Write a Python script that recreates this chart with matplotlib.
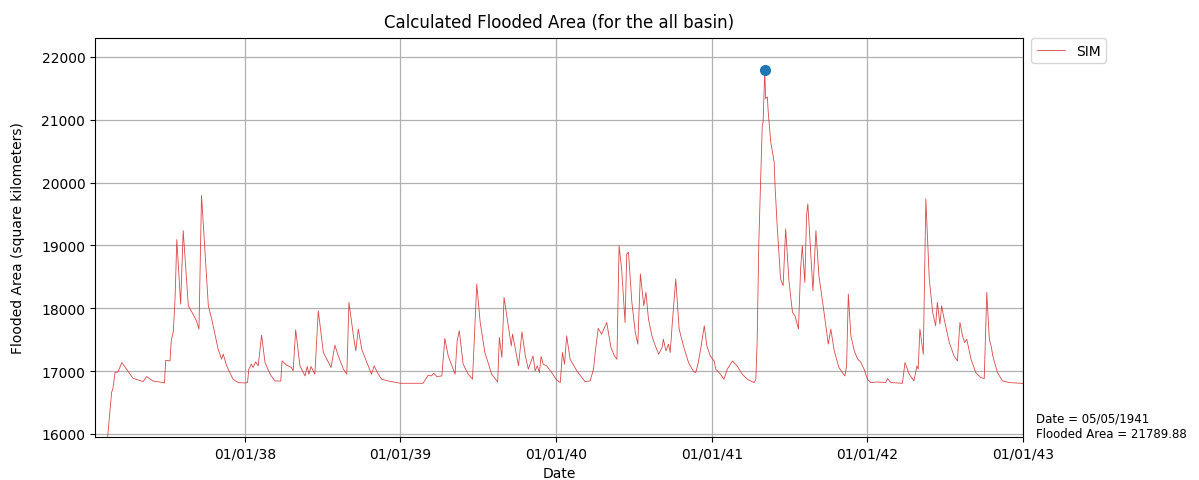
import matplotlib
matplotlib.use("Agg")
import matplotlib.pyplot as plt
import matplotlib.dates as mdates
import pandas as pd

# ---- data ----
dates = [
    "1937-02-12", "1937-02-22", "1937-02-25", "1937-03-02", "1937-03-09", "1937-03-18",
    "1937-04-13", "1937-05-07", "1937-05-15", "1937-05-30", "1937-06-26", "1937-06-29",
    "1937-07-09", "1937-07-12", "1937-07-17", "1937-07-21", "1937-07-25", "1937-08-03",
    "1937-08-09", "1937-08-21", "1937-09-01", "1937-09-09", "1937-09-15", "1937-09-21",
    "1937-10-07", "1937-10-15", "1937-10-30", "1937-11-07", "1937-11-11", "1937-11-19",
    "1937-12-04", "1937-12-16", "1938-01-01",
    "1938-01-07", "1938-01-10", "1938-01-16", "1938-01-20", "1938-01-26", "1938-02-01",
    "1938-02-09", "1938-02-17", "1938-03-01", "1938-03-12", "1938-03-26", "1938-03-29",
    "1938-04-09", "1938-04-20", "1938-04-24", "1938-04-30", "1938-05-10", "1938-05-22",
    "1938-05-27", "1938-05-31", "1938-06-05", "1938-06-14", "1938-06-22", "1938-07-04",
    "1938-07-14", "1938-07-22", "1938-07-31", "1938-08-08", "1938-08-20", "1938-08-28",
    "1938-09-02", "1938-09-12", "1938-09-18", "1938-09-24", "1938-10-02", "1938-10-14",
    "1938-10-25", "1938-10-31", "1938-11-10", "1938-11-18", "1938-12-03", "1938-12-23",
    "1939-01-01", "1939-02-23", "1939-03-07", "1939-03-15", "1939-03-20", "1939-03-27",
    "1939-04-08", "1939-04-15", "1939-04-23", "1939-05-09", "1939-05-14", "1939-05-19",
    "1939-05-28", "1939-06-09", "1939-06-19", "1939-06-29", "1939-07-07", "1939-07-18",
    "1939-08-03", "1939-08-17", "1939-08-21", "1939-08-27", "1939-09-01", "1939-09-11",
    "1939-09-18", "1939-09-21", "1939-09-27", "1939-10-05", "1939-10-13", "1939-10-21",
    "1939-10-28", "1939-11-08", "1939-11-13", "1939-11-18", "1939-11-23", "1939-11-27",
    "1939-12-02", "1939-12-10", "1939-12-22",
    "1940-01-01", "1940-01-11", "1940-01-16", "1940-01-21", "1940-01-26", "1940-02-03",
    "1940-02-19", "1940-03-09", "1940-03-21", "1940-03-29", "1940-04-02", "1940-04-09",
    "1940-04-17", "1940-04-23", "1940-04-29", "1940-05-03", "1940-05-09", "1940-05-17",
    "1940-05-23", "1940-05-28", "1940-06-03", "1940-06-11", "1940-06-15", "1940-06-19",
    "1940-06-27", "1940-07-05", "1940-07-11", "1940-07-17", "1940-07-25", "1940-07-30",
    "1940-08-05", "1940-08-13", "1940-08-21", "1940-08-29", "1940-09-06", "1940-09-09",
    "1940-09-15", "1940-09-21", "1940-09-25", "1940-09-30", "1940-10-08", "1940-10-16",
    "1940-10-26", "1940-11-07", "1940-11-18", "1940-11-24", "1940-11-30", "1940-12-06",
    "1940-12-14", "1940-12-20", "1940-12-28",
    "1941-01-06", "1941-01-10", "1941-01-21", "1941-01-29", "1941-02-06", "1941-02-18",
    "1941-03-01", "1941-03-13", "1941-03-25", "1941-04-10", "1941-04-14", "1941-04-17",
    "1941-04-21", "1941-04-25", "1941-04-29", "1941-05-01", "1941-05-05", "1941-05-07",
    "1941-05-11", "1941-05-13", "1941-05-19", "1941-05-27", "1941-05-29", "1941-06-03",
    "1941-06-11", "1941-06-17", "1941-06-23", "1941-07-01", "1941-07-09", "1941-07-15",
    "1941-07-23", "1941-07-28", "1941-08-01", "1941-08-07", "1941-08-11", "1941-08-14",
    "1941-08-21", "1941-08-26", "1941-09-02", "1941-09-09", "1941-09-21", "1941-10-01",
    "1941-10-07", "1941-10-15", "1941-10-26", "1941-11-09", "1941-11-13", "1941-11-17",
    "1941-11-23", "1941-12-01", "1941-12-09", "1941-12-16", "1941-12-24",
    "1942-01-01", "1942-01-09", "1942-01-24", "1942-02-13", "1942-02-17", "1942-02-25",
    "1942-03-24", "1942-03-30", "1942-04-09", "1942-04-20", "1942-04-27", "1942-04-30",
    "1942-05-04", "1942-05-12", "1942-05-18", "1942-05-26", "1942-06-03", "1942-06-10",
    "1942-06-14", "1942-06-20", "1942-06-24", "1942-06-30", "1942-07-12", "1942-07-23",
    "1942-07-31", "1942-08-06", "1942-08-12", "1942-08-17", "1942-08-22", "1942-09-01",
    "1942-09-12", "1942-09-24", "1942-10-02", "1942-10-08", "1942-10-14", "1942-10-19",
    "1942-10-22", "1942-11-02", "1942-11-14", "1942-11-30", "1942-12-27", "1942-12-31",
]
flooded_area = [
    15900, 16660, 16720, 16976, 16986, 17135,
    16885, 16832, 16912, 16842, 16812, 17170,
    17161, 17480, 17640, 18172, 19092, 18065,
    19235, 18038, 17906, 17800, 17667, 19793,
    18038, 17826, 17348, 17188, 17268, 17081,
    16869, 16816, 16810,
    16816, 17029, 17109, 17056, 17145, 17082,
    17571, 17135, 16949, 16842, 16842, 17161,
    17092, 17056, 17002, 17656, 17082, 16922,
    17072, 16949, 17072, 16949, 17959, 17295,
    17161, 17056, 17412, 17241, 17029, 16949,
    18093, 17587, 17321, 17667, 17348, 17135,
    16949, 17082, 16949, 16869, 16842, 16816,
    16805, 16805, 16933, 16922, 16965, 16912,
    16922, 17518, 17241, 16949, 17480, 17640,
    17109, 16949, 16869, 18385, 17773, 17295,
    16949, 16826, 17534, 17215, 18172, 17720,
    17401, 17587, 17374, 17082, 17624, 17241,
    17029, 17241, 17002, 17082, 16975, 17231,
    17109, 17082, 16975,
    16869, 16816, 17295, 17109, 17560, 17188,
    17002, 16832, 16842, 17029, 17295, 17678,
    17587, 17678, 17773, 17614, 17374, 17241,
    17188, 18995, 18624, 17773, 18863, 18890,
    18093, 17614, 17428, 18544, 18038, 18252,
    17826, 17560, 17401, 17268, 17374, 17507,
    17321, 17428, 17295, 17773, 18465, 17667,
    17401, 17135, 17002, 16975, 17135, 17374,
    17720, 17401, 17241,
    17161, 17029, 16949, 16869, 17029, 17161,
    17082, 16949, 16869, 16816, 16869, 17454,
    19049, 20006, 20909, 20963, 21789.88, 21335,
    21362, 21123, 20644, 20325, 19953, 19314,
    18465, 18357, 19261, 18411, 17933, 17880,
    17667, 18624, 18995, 18411, 19474, 19660,
    18836, 18278, 19235, 18517, 17933, 17428,
    17667, 17321, 17055, 16922, 17082, 18225,
    17560, 17321, 17188, 17145, 17029,
    16869, 16816, 16826, 16816, 16880, 16816,
    16805, 17135, 16949, 16842, 17082, 17029,
    17667, 17268, 19740, 18465, 17933, 17720,
    18093, 17747, 18038, 17826, 17454, 17241,
    17161, 17773, 17560, 17454, 17507, 17188,
    16976, 16896, 16880, 18252, 17507, 17374,
    17241, 16976, 16842, 16816, 16805, 16800,
]
peak_date = "1941-05-05"
peak_value = 21789.88
y_ticks = [16000, 17000, 18000, 19000, 20000, 21000, 22000]

# ---- plotting ----
x = pd.to_datetime(dates)
fig = plt.figure(figsize=(11.99, 4.81), dpi=100)
ax = fig.add_axes([95 / 1199, 1 - 438 / 481, (1023 - 95) / 1199, (438 - 39) / 481])

ax.plot(x, flooded_area, color="#d62728", lw=0.6, alpha=0.85, label="SIM")
ax.plot(pd.to_datetime([peak_date]), [peak_value], "o", color="#1f77b4", ms=7)

ax.set_xlim(pd.Timestamp("1937-01-14"), pd.Timestamp("1943-01-01"))
ax.set_ylim(15950, 22300)
ax.set_yticks(y_ticks)
ax.xaxis.set_major_locator(mdates.YearLocator())
ax.xaxis.set_major_formatter(mdates.DateFormatter("%d/%m/%y"))
ax.grid(True, color="#b0b0b0", lw=0.9)
ax.tick_params(labelsize=10)

ax.set_title("Calculated Flooded Area (for the all basin)", fontsize=12, pad=8)
ax.set_xlabel("Date", fontsize=10)
ax.set_ylabel("Flooded Area (square kilometers)", fontsize=10, labelpad=12)

ax.legend(loc="upper left", bbox_to_anchor=(1.009, 1.0), borderaxespad=0, fontsize=10)

pdate = pd.Timestamp(peak_date)
fig.text(1036 / 1199, 1 - 441 / 481,
         f"Date = {pdate.strftime('%d/%m/%Y')}\nFlooded Area = {peak_value:.2f}",
         fontsize=8.5, ha="left", va="bottom")

fig.savefig("out.png", dpi=100)
